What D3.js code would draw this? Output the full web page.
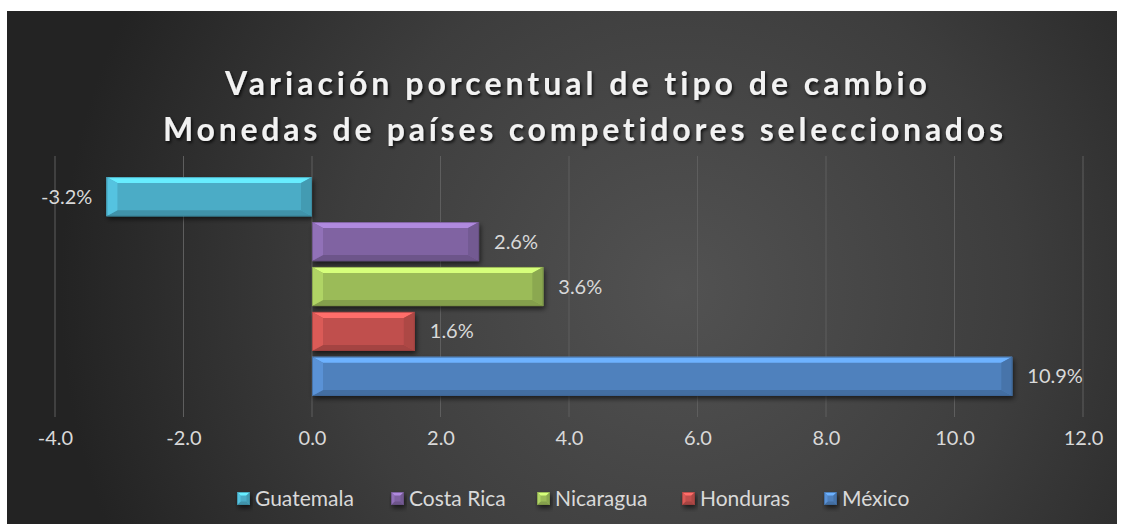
<!DOCTYPE html>
<html>
<head>
<meta charset="utf-8">
<script src="https://cdn.jsdelivr.net/npm/d3@7"></script>
<style>
	body { margin: 0; background: #fff; }
	text { font-family: Lato, "Open Sans", sans-serif; font-variant-ligatures: none; }
</style>
</head>
<body>
<script>
// data
var countries = ['Guatemala', 'Costa Rica', 'Nicaragua', 'Honduras', 'México']
var values = [-3.2, 2.6, 3.6, 1.6, 10.9]
var colors = ['#4bacc6', '#8064a2', '#9bbb59', '#c0504d', '#4f81bd']
var xTicks = [-4, -2, 0, 2, 4, 6, 8, 10, 12]
var titleLines = ['Variación porcentual de tipo de cambio', 'Monedas de países competidores seleccionados']

var width = 1124,
	height = 530

var fmt = v => d3.format('.1f')(v).replace('\u2212', '-')

var svg = d3.select('body').append('svg')
	.attr('width', width)
	.attr('height', height)

var defs = svg.append('defs')

var bg = defs.append('radialGradient')
	.attr('id', 'bg')
	.attr('gradientUnits', 'userSpaceOnUse')
	.attr('cx', 680).attr('cy', 290).attr('r', 620)
bg.append('stop').attr('offset', '0%').attr('stop-color', '#525252')
bg.append('stop').attr('offset', '55%').attr('stop-color', '#3d3d3d')
bg.append('stop').attr('offset', '100%').attr('stop-color', '#232323')

var shadow = defs.append('filter')
	.attr('id', 'shadow')
	.attr('x', '-10%').attr('y', '-30%').attr('width', '130%').attr('height', '180%')
shadow.append('feDropShadow')
	.attr('dx', 1.5).attr('dy', 3).attr('stdDeviation', 2.5)
	.attr('flood-color', '#000').attr('flood-opacity', 0.6)

var tshadow = defs.append('filter')
	.attr('id', 'tshadow')
	.attr('x', '-5%').attr('y', '-30%').attr('width', '110%').attr('height', '170%')
tshadow.append('feDropShadow')
	.attr('dx', 1.5).attr('dy', 2).attr('stdDeviation', 1.5)
	.attr('flood-color', '#000').attr('flood-opacity', 0.75)

svg.append('rect')
	.attr('x', 7).attr('y', 11)
	.attr('width', 1110).attr('height', 513)
	.attr('fill', 'url(#bg)')

// scales
var x = d3.scaleLinear()
	.domain([-4, 12])
	.range([55, 1083])

var y = d3.scaleBand()
	.domain(countries)
	.range([156, 417])
	.paddingInner(0.13)
	.paddingOuter(0.47)

// gridlines
svg.append('g')
	.selectAll('line')
	.data(xTicks)
	.enter()
	.append('line')
		.attr('x1', d => x(d)).attr('x2', d => x(d))
		.attr('y1', 156).attr('y2', 417)
		.attr('stroke', '#5e5e5e')
		.attr('stroke-width', 1)

// x axis labels
var axis = svg.append('g')
	.attr('transform', 'translate(0,' + 428 + ')')
	.call(d3.axisBottom(x).tickValues(xTicks).tickFormat(fmt).tickSize(0))
axis.select('.domain').remove()
axis.selectAll('text')
	.attr('fill', '#d9d9d9')
	.attr('font-size', 20)
	.attr('font-family', 'Lato, sans-serif')

// bars with a bevel
function bevel(g, x0, y0, w, h, col, bx, by) {
	var c = d3.color(col)
	g.append('rect')
		.attr('x', x0).attr('y', y0).attr('width', w).attr('height', h)
		.attr('fill', col)
		.attr('filter', 'url(#shadow)')
	var x1 = x0 + w, y1 = y0 + h
	var faces = [
		[[x0, y0], [x1, y0], [x1 - bx, y0 + by], [x0 + bx, y0 + by], c.brighter(0.9)],
		[[x0, y1], [x1, y1], [x1 - bx, y1 - by], [x0 + bx, y1 - by], c.darker(0.45)],
		[[x0, y0], [x0 + bx, y0 + by], [x0 + bx, y1 - by], [x0, y1], c.brighter(0.35)],
		[[x1, y0], [x1 - bx, y0 + by], [x1 - bx, y1 - by], [x1, y1], c.darker(0.3)]
	]
	faces.forEach(function(f) {
		g.append('polygon')
			.attr('points', f.slice(0, 4).map(p => p.join(',')).join(' '))
			.attr('fill', f[4])
	})
	g.append('rect')
		.attr('x', x0 + 0.5).attr('y', y0 + 0.5).attr('width', w - 1).attr('height', h - 1)
		.attr('fill', 'none')
		.attr('stroke', c.darker(0.8))
		.attr('stroke-width', 1)
		.attr('stroke-opacity', 0.6)
}

var bars = svg.append('g')
countries.forEach(function(d, i) {
	var v = values[i]
	var x0 = Math.min(x(0), x(v))
	var w = Math.abs(x(v) - x(0))
	bevel(bars, x0, y(d), w, y.bandwidth(), colors[i], 11, 6)
})

// data labels
svg.append('g')
	.selectAll('text')
	.data(countries)
	.enter()
	.append('text')
		.attr('x', (d, i) => values[i] < 0 ? x(values[i]) - 14 : x(values[i]) + 15)
		.attr('y', d => y(d) + y.bandwidth() / 2)
		.attr('dy', '0.35em')
		.attr('text-anchor', (d, i) => values[i] < 0 ? 'end' : 'start')
		.attr('fill', '#d9d9d9')
		.attr('font-size', 20)
		.text((d, i) => fmt(values[i]) + '%')

// title
var titleX = [225, 163]
var titleY = [84, 130]
var titleW = [702, 840]
svg.append('g')
	.selectAll('text')
	.data(titleLines)
	.enter()
	.append('text')
		.attr('x', (d, i) => titleX[i])
		.attr('y', (d, i) => titleY[i])
		.attr('dy', '0.35em')
		.attr('font-size', 32)
		.attr('font-weight', 'bold')
		.attr('fill', '#f2f2f2')
		.attr('textLength', (d, i) => titleW[i])
		.attr('lengthAdjust', 'spacing')
		.attr('filter', 'url(#tshadow)')
		.text(d => d)

// legend
var legendX = [237, 391, 537, 682, 824]
var legend = svg.append('g')
countries.forEach(function(d, i) {
	var lg = legend.append('g')
	bevel(lg, legendX[i], 492, 13, 13, colors[i], 3.5, 3.5)
	lg.append('text')
		.attr('x', legendX[i] + 18)
		.attr('y', 498.5)
		.attr('dy', '0.35em')
		.attr('fill', '#d9d9d9')
		.attr('font-size', 21)
		.text(d)
})
</script>
</body>
</html>
